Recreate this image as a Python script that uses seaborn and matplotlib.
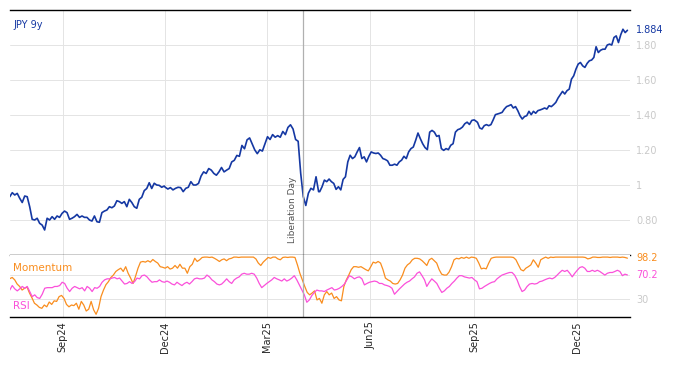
import numpy as np
import pandas as pd
import matplotlib
matplotlib.use("Agg")
import matplotlib.pyplot as plt
import matplotlib.dates as mdates
import seaborn as sns

# JPY 9y yield in four stretches (start, end, values)
jpy_seg1 = ("2024-07-16", "2024-11-30",
            [0.933, 0.956, 0.943, 0.952, 0.924, 0.90, 0.937, 0.933, 0.876, 0.804, 0.80, 0.81, 0.781, 0.771,
             0.743, 0.81, 0.80, 0.819, 0.804, 0.823, 0.815, 0.838, 0.851, 0.842, 0.804, 0.81, 0.819, 0.832,
             0.815, 0.823, 0.815, 0.815, 0.80, 0.794, 0.823, 0.79, 0.787, 0.842, 0.851, 0.857, 0.876, 0.87,
             0.88, 0.91, 0.905, 0.895, 0.905, 0.876, 0.918, 0.90, 0.876, 0.867, 0.918, 0.93, 0.968, 0.98,
             1.013, 0.98, 1.01, 1.0, 0.998, 0.987, 0.994])
jpy_seg2 = ("2024-12-01", "2025-04-16",
            [0.987, 0.977, 0.985, 0.972, 0.981, 0.987, 0.985, 0.962, 0.981, 0.987, 1.019, 1.0, 1.0, 1.009,
             1.051, 1.075, 1.066, 1.094, 1.085, 1.066, 1.056, 1.075, 1.10, 1.075, 1.085, 1.094, 1.132, 1.141,
             1.169, 1.164, 1.226, 1.207, 1.258, 1.269, 1.235, 1.201, 1.179, 1.201, 1.194, 1.235, 1.276, 1.26,
             1.288, 1.273, 1.282, 1.273, 1.306, 1.288, 1.329, 1.344, 1.32, 1.26, 1.25, 1.066, 0.934, 0.883,
             0.953, 0.981, 0.972, 1.047, 0.962])
jpy_seg3 = ("2025-04-17", "2025-09-01",
            [0.962, 0.99, 1.028, 1.019, 1.034, 1.019, 1.009, 0.975, 0.99, 0.972, 1.032, 1.047, 1.132, 1.17,
             1.151, 1.161, 1.189, 1.214, 1.151, 1.161, 1.132, 1.164, 1.189, 1.183, 1.18, 1.183, 1.17, 1.151,
             1.146, 1.138, 1.113, 1.113, 1.119, 1.113, 1.132, 1.142, 1.164, 1.151, 1.189, 1.208, 1.217, 1.255,
             1.297, 1.265, 1.236, 1.214, 1.202, 1.302, 1.312, 1.302, 1.278, 1.283, 1.208, 1.198, 1.208, 1.202,
             1.227, 1.236, 1.302, 1.316, 1.321, 1.331, 1.35, 1.359, 1.346, 1.369, 1.372])
jpy_seg4 = ("2025-09-02", "2026-01-15",
            [1.368, 1.358, 1.326, 1.32, 1.339, 1.345, 1.339, 1.345, 1.372, 1.402, 1.406, 1.41, 1.415, 1.434,
             1.448, 1.453, 1.459, 1.44, 1.448, 1.425, 1.396, 1.377, 1.391, 1.396, 1.421, 1.402, 1.421, 1.41,
             1.425, 1.429, 1.434, 1.44, 1.434, 1.453, 1.448, 1.459, 1.472, 1.497, 1.516, 1.535, 1.52, 1.539,
             1.548, 1.605, 1.624, 1.662, 1.691, 1.70, 1.681, 1.672, 1.695, 1.71, 1.714, 1.729, 1.79, 1.757,
             1.77, 1.776, 1.776, 1.80, 1.805, 1.80, 1.843, 1.852, 1.814, 1.858, 1.89, 1.871, 1.884])

# momentum indicator (orange)
mom_seg1 = ("2024-07-16", "2025-01-18",
            [64, 66, 62, 55, 51, 45, 48, 50, 40, 32, 23, 20, 16, 14.5, 20, 17, 25, 21, 27, 26, 34, 36, 31, 21,
             17, 20, 19, 23, 13, 26, 20, 10, 13, 26, 12, 4.5, 14.5, 34, 45, 54, 59, 66, 70, 76, 79, 81.5, 76,
             84, 73, 65, 56, 68, 81.5, 91.6, 92.7, 91.6, 94, 91.6, 96, 92.7, 90, 84, 83, 81.5, 84, 80, 81.5,
             86, 81.5, 88, 81.5, 81.5, 73, 84, 88, 98, 92.7, 95.5, 99.4, 100, 100, 99.4, 100, 98, 95.5, 92.7])
mom_seg2 = ("2025-01-20", "2025-07-19",
            [95.5, 97, 94, 97, 98, 100, 100, 99.4, 100, 100, 100, 100, 100, 100, 97, 90, 86, 91.6, 95.5, 99.4,
             98, 100, 100, 97, 95.5, 99.4, 100, 99.4, 100, 100, 99.4, 87, 73, 62, 51, 41, 37, 40, 43.6, 28.5,
             31, 23, 37, 42.5, 37, 40, 31, 34, 28.5, 27, 51, 62, 70, 79, 84, 84, 83, 84, 81.5, 79, 77, 84,
             91.6, 90, 92.7, 90, 79, 65, 62, 60, 56, 55, 56, 62, 70, 81.5, 87, 90, 95.5, 98, 98, 97, 94, 90])
mom_seg3 = ("2025-07-21", "2026-01-15",
            [86, 95.5, 98, 94, 90, 79, 71.5, 70, 70, 75, 84, 95.5, 98, 97, 99.4, 98, 100, 98, 100, 99.4,
             98, 90, 80.4, 81.5, 80.4, 90, 98, 99.4, 100, 100, 100, 100, 100, 100, 100, 99.4, 95.5, 87, 79, 77,
             81.5, 84, 87, 95.5, 90, 83, 95.5, 98, 100, 98, 100,
             99.4, 100, 100, 100, 100, 100, 100, 100, 100, 100, 100, 100, 100, 99.4, 97, 98, 100, 100, 99.4,
             99.4, 100, 100, 100, 99.4, 100, 100, 100, 99.4, 100, 99.4, 98.2])

# RSI (magenta)
rsi_seg1 = ("2024-07-16", "2025-01-18",
            [45, 52.5, 47, 43.6, 47, 51, 48, 51, 42.5, 34, 37, 32.4, 31, 38, 48, 49, 49, 49, 51, 51, 52.5, 58,
             56, 48, 42.5, 48, 51, 49, 47, 49, 43.6, 51, 48, 42.5, 49, 48, 51, 58, 62, 63.7, 63.7, 65, 66,
             63.7, 65, 60, 55, 56, 59, 56, 59, 65, 63.7, 69, 70, 67, 62, 58, 59, 59, 62, 59, 58, 60, 58, 55,
             53.6, 58, 55, 52.5, 56, 58, 55, 59, 63.7, 65, 63.7, 63.7, 65, 70, 67, 62, 59, 55, 53.6])
rsi_seg2 = ("2025-01-20", "2025-07-19",
            [55, 59, 63.7, 59, 56, 62, 65, 67, 71.5, 73, 71.5, 71.5, 73, 71.5, 65, 56, 49, 52.5, 56, 59, 62,
             66, 63.7, 62, 60, 63.7, 60, 62, 65, 69, 62, 53.6, 45, 37, 24.6, 28.5, 35.8, 41, 45, 43.6, 43.6,
             42.5, 45, 47, 49, 45, 46, 48, 51, 55, 62, 69, 67, 63.7, 66, 67, 63.7, 53.6, 56, 58, 59, 60, 59,
             56, 56, 53.6, 52.5, 51, 48, 38, 42.5, 47, 51, 55, 58, 60, 63.7, 67, 73, 75.4, 69, 62])
rsi_seg3 = ("2025-07-21", "2026-01-15",
            [51, 58, 63.7, 60, 56, 48, 41, 43.6, 48, 51, 56, 60, 65, 69, 69, 67, 66, 65, 66, 62, 59, 47, 48,
             51, 53.6, 56, 58, 59, 63.7, 67, 70, 71.5, 73, 74.3, 74.3, 70, 62, 51, 42.5, 45, 51, 55, 56, 55,
             56, 59, 60, 62, 63.7, 65, 63.7, 66, 70, 74.3, 78, 76, 78, 73, 67, 73, 78, 82.6, 84, 81.5, 76, 76,
             78, 76, 78, 76, 73, 70, 73, 74.3, 74.3, 76, 78, 76, 69, 71.5, 70.2])

month_ticks = ["2024-09-01", "2024-12-01", "2025-03-01", "2025-06-01", "2025-09-01", "2025-12-01"]
yield_ticks = [0.8, 1.0, 1.2, 1.4, 1.6, 1.8]
yield_labels = ["0.80", "1", "1.20", "1.40", "1.60", "1.80"]
liberation_day = "2025-04-02"


def build(segs, col):
    parts = []
    for start, end, vals in segs:
        parts.append(pd.DataFrame({"date": pd.date_range(start, end, periods=len(vals)), col: vals}))
    return pd.concat(parts, ignore_index=True)


jpy = build([jpy_seg1, jpy_seg2, jpy_seg3, jpy_seg4], "yield")
mom = build([mom_seg1, mom_seg2, mom_seg3], "value")
rsi = build([rsi_seg1, rsi_seg2, rsi_seg3], "value")

BLUE = "#1538a3"
ORANGE = "#f98d1e"
PINK = "#fb50da"
GRID = "#e4e4e4"
LABEL = "#c9c9c9"

sns.set_style("white")
plt.rcParams["font.family"] = ["DejaVu Sans"]

fig = plt.figure(figsize=(6.74, 3.66), dpi=100)
ax = fig.add_axes([10 / 674, 1 - 255 / 366, 620 / 674, 245 / 366])
ax2 = fig.add_axes([10 / 674, 1 - 317 / 366, 620 / 674, 62 / 366], sharex=ax)

sns.lineplot(data=jpy, x="date", y="yield", ax=ax, color=BLUE, linewidth=1.2)
sns.lineplot(data=mom, x="date", y="value", ax=ax2, color=ORANGE, linewidth=0.9)
sns.lineplot(data=rsi, x="date", y="value", ax=ax2, color=PINK, linewidth=0.9)

xt = pd.to_datetime(month_ticks)
ax.set_xlim(pd.Timestamp("2024-07-16 05:00"), pd.Timestamp("2026-01-17 07:00"))
ax.set_xticks(xt)
ax2.xaxis.set_major_formatter(mdates.DateFormatter("%b%y"))

# main panel
ax.set_ylim(0.6, 2.0)
ax.yaxis.tick_right()
ax.set_yticks(yield_ticks)
ax.set_yticklabels(yield_labels)
ax.tick_params(axis="y", length=0, pad=4.3, labelsize=7, labelcolor=LABEL)
ax.tick_params(axis="x", direction="in", length=4, width=0.8, color="black", labelbottom=False)
ax.grid(True, color=GRID, linewidth=0.7)
ax.set_xlabel("")
ax.set_ylabel("")
for s in ["left", "right"]:
    ax.spines[s].set_visible(False)
for s in ["top", "bottom"]:
    ax.spines[s].set_color("black")
    ax.spines[s].set_linewidth(1.0)

ax.text(0.005, 0.94, "JPY 9y", transform=ax.transAxes, color=BLUE, fontsize=7, va="center", ha="left")
ax.annotate("1.884", xy=(1, jpy["yield"].iloc[-1]), xycoords=("axes fraction", "data"),
            xytext=(4.3, 0), textcoords="offset points", color=BLUE, fontsize=7, va="center")

lib = pd.Timestamp(liberation_day)
ax.axvline(lib, color="#b0b0b0", linewidth=0.9)
ax2.axvline(lib, color="#b0b0b0", linewidth=0.9)
ax.annotate("Liberation Day", xy=(lib, 0), xycoords=("data", "axes fraction"),
            xytext=(-4, 8.5), textcoords="offset points", rotation=90,
            ha="right", va="bottom", fontsize=6.5, color="#555555")

# indicator panel
ax2.set_ylim(0, 103.5)
ax2.yaxis.tick_right()
ax2.set_yticks([30, 70])
ax2.set_yticklabels(["30", ""])
ax2.tick_params(axis="y", length=0, pad=4.3, labelsize=7, labelcolor=LABEL)
ax2.tick_params(axis="x", direction="in", length=4, width=0.8, color="black",
                labelsize=7, labelrotation=90, pad=3)
ax2.grid(True, color=GRID, linewidth=0.7)
ax2.set_xlabel("")
ax2.set_ylabel("")
for s in ["left", "right", "top"]:
    ax2.spines[s].set_visible(False)
ax2.spines["bottom"].set_color("black")
ax2.spines["bottom"].set_linewidth(1.0)

ax2.text(0.005, 0.79, "Momentum", transform=ax2.transAxes, color=ORANGE, fontsize=7.5, va="center")
ax2.text(0.005, 0.18, "RSI", transform=ax2.transAxes, color=PINK, fontsize=7.5, va="center")
ax2.annotate("98.2", xy=(1, mom["value"].iloc[-1]), xycoords=("axes fraction", "data"),
             xytext=(4.3, 0), textcoords="offset points", color=ORANGE, fontsize=7, va="center")
ax2.annotate("70.2", xy=(1, rsi["value"].iloc[-1]), xycoords=("axes fraction", "data"),
             xytext=(4.3, 0), textcoords="offset points", color=PINK, fontsize=7, va="center")

fig.savefig("out.png", dpi=100)
